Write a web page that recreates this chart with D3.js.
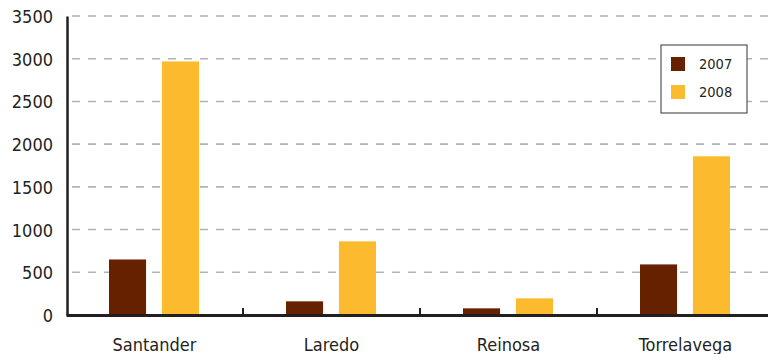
<!doctype html>
<html>
<head>
<meta charset="utf-8">
<script src="https://d3js.org/d3.v7.min.js"></script>
<style>
  body { margin: 0; background: #fff; }
  text { font-family: "DejaVu Sans Condensed", "DejaVu Sans", sans-serif; fill: #231f20; }
</style>
</head>
<body>
<svg width="768" height="354"></svg>
<script>
var cities = ["Santander", "Laredo", "Reinosa", "Torrelavega"];
var years = ["2007", "2008"];
var values2007 = [650, 160, 78, 592];
var values2008 = [2968, 862, 195, 1858];
var yTicks = [0, 500, 1000, 1500, 2000, 2500, 3000, 3500];
var colors = ["#662200", "#fcbb2f"];

var svg = d3.select("svg");
var plotLeft = 66, plotRight = 774, plotTop = 16, plotBottom = 315;

var x = d3.scaleBand().domain(cities).range([plotLeft, plotRight]);
var y = d3.scaleLinear().domain([0, 3500]).range([plotBottom, plotTop]);
var xs = d3.scaleBand().domain(years).range([0, 90]).paddingInner(0.3);

// dashed grid
svg.append("g").selectAll("line")
  .data(yTicks.slice(1))
  .enter().append("line")
  .attr("x1", plotLeft + 6).attr("x2", 768)
  .attr("y1", function(d) { return y(d); })
  .attr("y2", function(d) { return y(d); })
  .attr("stroke", "#b3b3b3")
  .attr("stroke-width", 1.6)
  .attr("stroke-dasharray", "8,8");

// bars
var data = cities.map(function(c, i) { return { city: c, v: [values2007[i], values2008[i]] }; });
var grp = svg.append("g").selectAll("g")
  .data(data).enter().append("g")
  .attr("transform", function(d) { return "translate(" + (x(d.city) + x.bandwidth() / 2 - 45.5) + ",0)"; });
grp.selectAll("rect")
  .data(function(d) { return d.v.map(function(v, j) { return { year: years[j], v: v, j: j }; }); })
  .enter().append("rect")
  .attr("x", function(d) { return xs(d.year); })
  .attr("width", xs.bandwidth())
  .attr("y", function(d) { return y(d.v); })
  .attr("height", function(d) { return y(0) - y(d.v); })
  .attr("fill", function(d) { return colors[d.j]; });

// y axis
var yAxis = svg.append("g")
  .attr("transform", "translate(" + (plotLeft + 1) + ",0)")
  .call(d3.axisLeft(y).tickValues(yTicks).tickFormat(d3.format("d")).tickSize(0).tickPadding(14));
yAxis.select(".domain").attr("stroke", "#231f20").attr("stroke-width", 2.5);
yAxis.selectAll("text").style("font-size", "18px").attr("fill", "#231f20").attr("dy", "0.36em");

// x axis
var xAxis = svg.append("g")
  .attr("transform", "translate(0," + plotBottom + ")")
  .call(d3.axisBottom(x).tickSize(0).tickPadding(23));
xAxis.select(".domain").attr("stroke", "#231f20").attr("stroke-width", 3);
xAxis.selectAll("text").style("font-size", "18px").attr("fill", "#231f20");

// category separator ticks
svg.append("g").selectAll("line")
  .data(cities.slice(1))
  .enter().append("line")
  .attr("x1", function(d) { return x(d); })
  .attr("x2", function(d) { return x(d); })
  .attr("y1", plotBottom).attr("y2", plotBottom - 7)
  .attr("stroke", "#231f20").attr("stroke-width", 2);

// legend
var lg = svg.append("g").attr("transform", "translate(661,45)");
lg.append("rect").attr("width", 86).attr("height", 68)
  .attr("fill", "#fff").attr("stroke", "#555").attr("stroke-width", 1.2);
years.forEach(function(yr, i) {
  lg.append("rect").attr("x", 10).attr("y", 12 + i * 28).attr("width", 14).attr("height", 14)
    .attr("fill", colors[i]);
  lg.append("text").attr("x", 38).attr("y", 19 + i * 28).attr("dy", "0.36em")
    .style("font-size", "14.5px").text(yr);
});
</script>
</body>
</html>
